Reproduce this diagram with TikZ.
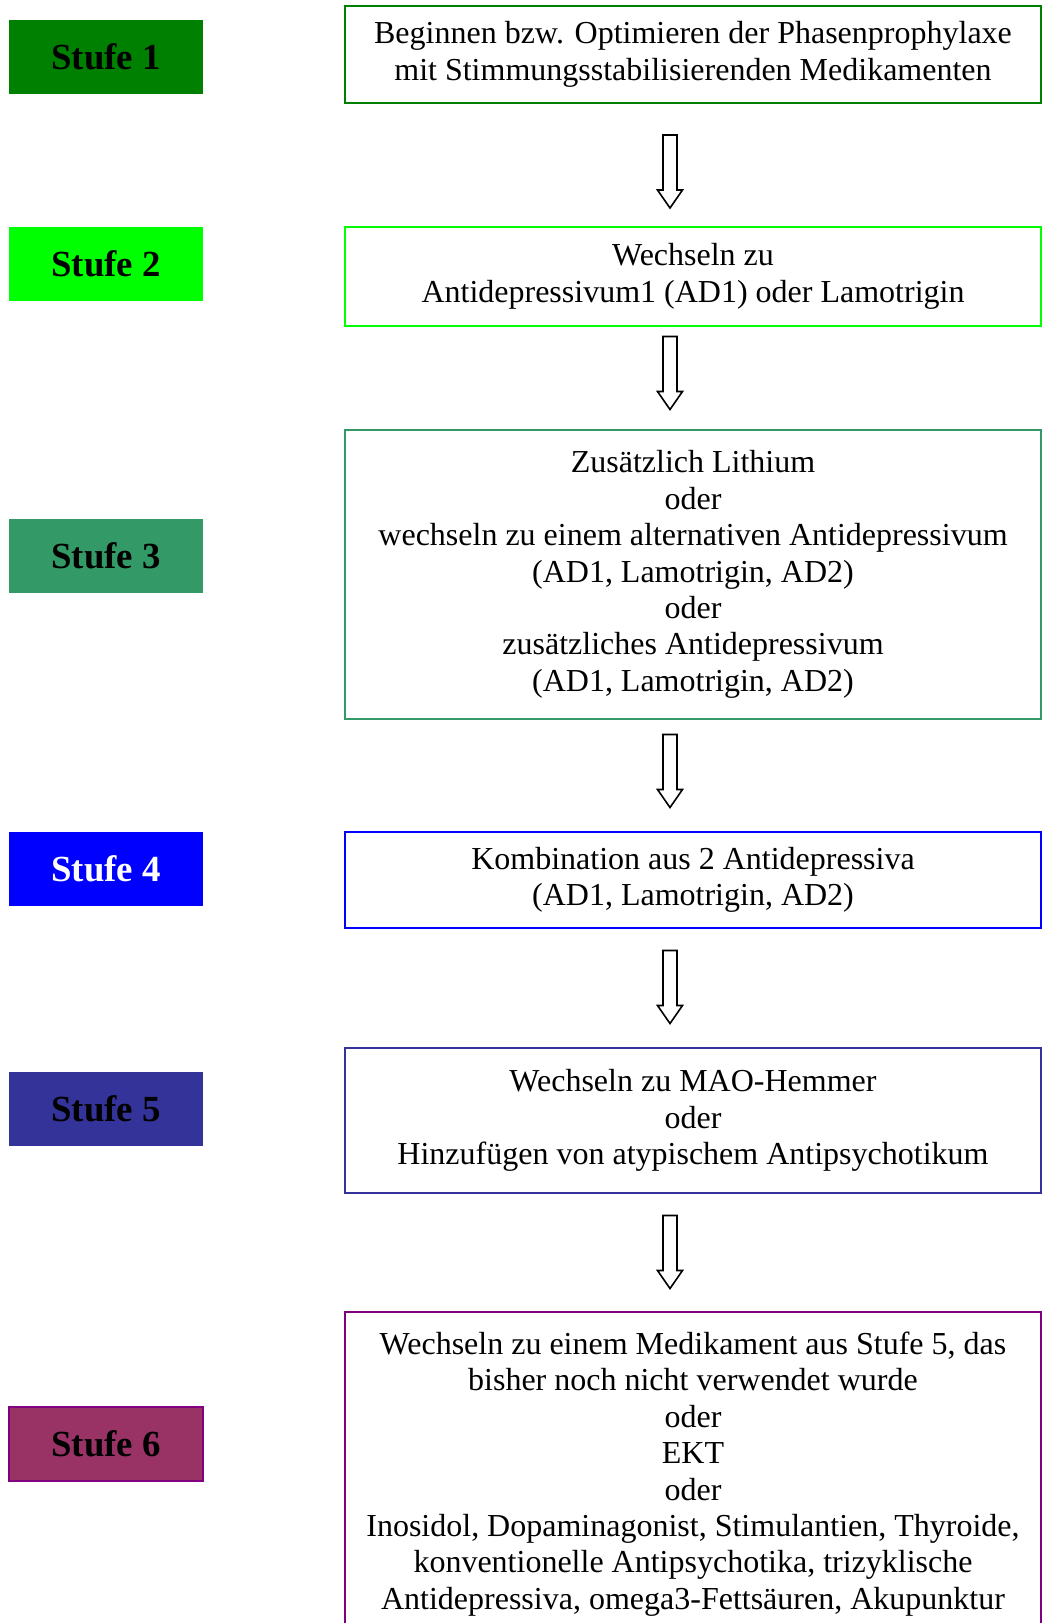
\documentclass[tikz,border=0pt]{standalone}
\usepackage{fontspec}
\setmainfont{Liberation Serif}
\definecolor{cOne}{HTML}{008000}
\definecolor{cTwo}{HTML}{00FF00}
\definecolor{cThree}{HTML}{339966}
\definecolor{cFour}{HTML}{0000FF}
\definecolor{cFive}{HTML}{333399}
\definecolor{cSix}{HTML}{993366}
\definecolor{cSixB}{HTML}{800080}
\tikzset{
  stufebox/.style={rectangle, minimum width=194pt, minimum height=74pt, inner sep=0pt,
    font=\fontsize{36.8}{41}\selectfont\bfseries, text=black},
  mainbox/.style={rectangle, line width=2pt, minimum width=696pt, inner sep=0pt,
    align=center, font=\fontsize{32}{36.4}\selectfont},
  mtext/.style={align=center, inner sep=0pt, font=\fontsize{32}{36.4}\selectfont},
  downarrow/.pic={\draw[black, fill=white, line width=1.6pt, line join=miter]
    (-7,36.5) -- (-7,-18.5) -- (-12.5,-18.5) -- (0,-36.5) -- (12.5,-18.5) -- (7,-18.5) -- (7,36.5) -- cycle;}
}
\begin{document}
\begin{tikzpicture}[x=1pt,y=1pt]
\useasboundingbox (0,0) rectangle (1042,-1623);
\fill[white] (0,0) rectangle (1042,-1623);
% left level boxes
\node[stufebox, fill=cOne] (s1) at (106,-57) {Stufe 1};
\node[stufebox, fill=cTwo] (s2) at (106,-264) {Stufe 2};
\node[stufebox, fill=cThree] (s3) at (106,-556) {Stufe 3};
\node[stufebox, fill=cFour, text=white] (s4) at (106,-868.5) {Stufe 4};
\node[stufebox, fill=cFive] (s5) at (106,-1108.5) {Stufe 5};
\node[stufebox, fill=cSix, draw=cSixB, line width=1.2pt] (s6) at (106,-1444) {Stufe 6};
% right boxes
\node[mainbox, draw=cOne, minimum height=97pt] (b1) at (693,-54.5)
  {Beginnen bzw. Optimieren der Phasenprophylaxe\\mit Stimmungsstabilisierenden Medikamenten};
\node[mainbox, draw=cTwo, minimum height=99pt] (b2) at (693,-276.5)
  {Wechseln zu\\Antidepressivum1 (AD1) oder Lamotrigin};
\node[mainbox, draw=cThree, minimum height=289pt] (b3) at (693,-574.5)
  {Zusätzlich Lithium\\oder\\wechseln zu einem alternativen Antidepressivum\\(AD1, Lamotrigin, AD2)\\oder\\zusätzliches Antidepressivum\\(AD1, Lamotrigin, AD2)};
\node[mainbox, draw=cFour, minimum height=96pt] (b4) at (693,-880)
  {Kombination aus 2 Antidepressiva\\(AD1, Lamotrigin, AD2)};
\node[mainbox, draw=cFive, minimum height=145pt] (b5) at (693,-1120.5)
  {Wechseln zu MAO-Hemmer\\oder\\Hinzufügen von atypischem Antipsychotikum};
\node[mtext] (b6) at (693,-1474)
  {Wechseln zu einem Medikament aus Stufe 5, das\\bisher noch nicht verwendet wurde\\oder\\EKT\\oder\\Inosidol, Dopaminagonist, Stimulantien, Thyroide,\\konventionelle Antipsychotika, trizyklische\\Antidepressiva, omega3-Fettsäuren, Akupunktur};
\draw[draw=cSixB, line width=2pt] (345,-1640) -- (345,-1312) -- (1041,-1312) -- (1041,-1640);
% block arrows between the steps
\pic (a1) at (670,-171.5) {downarrow};
\pic (a2) at (670,-373) {downarrow};
\pic (a3) at (670,-771) {downarrow};
\pic (a4) at (670,-987) {downarrow};
\pic (a5) at (670,-1252) {downarrow};
\end{tikzpicture}
\end{document}
